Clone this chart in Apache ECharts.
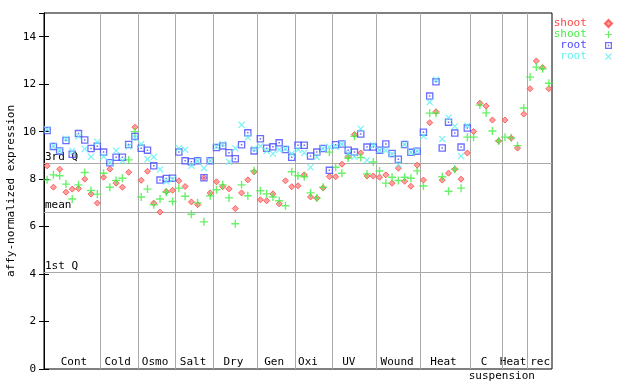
<!DOCTYPE html>
<html>
<head>
<meta charset="utf-8">
<script src="https://cdn.jsdelivr.net/npm/echarts@6/dist/echarts.min.js"></script>
<style>html,body{margin:0;padding:0;background:#fff}#c{width:640px;height:384px}</style>
</head>
<body>
<div id="c"></div>
<script>
// group names and boundaries (sample index)
var groupNames = ['Cont','Cold','Osmo','Salt','Dry','Gen','Oxi','UV','Wound','Heat','C','Heat','rec'];
var groupLabelPos = [4.78, 11.75, 17.7, 23.76, 30.2, 36.7, 42.1, 48.6, 56.3, 63.7, 70.15, 74.8, 79.1];
var subLabel = ['suspension'];
var subLabelPos = [73.0];
var groupBounds = [9, 15, 21, 27, 34, 40, 46, 53, 60, 68, 73, 77];
var sampleCount = 81;

var refLines = [8.67, 6.61, 4.08];
var refNames = ['3rd Q', 'mean', '1st Q'];

var shootA = [8.56,7.66,8.42,7.45,7.58,7.60,8.00,7.37,6.99,
  8.08,8.42,7.83,7.66,8.29,10.19,
  7.95,8.33,6.99,6.61,7.48,7.53,
  7.93,7.69,7.04,6.92,8.06,7.42,
  7.89,7.68,7.59,6.76,7.42,7.97,8.31,
  7.13,7.09,7.38,6.96,7.93,7.68,
  7.72,8.18,7.25,7.20,7.63,8.11,
  8.10,8.63,8.95,9.88,9.10,8.13,8.13,
  8.08,8.18,7.83,8.46,7.91,7.70,8.59,
  7.96,10.38,10.84,7.96,8.25,8.42,8.00,9.10,
  10.01,11.20,11.08,10.49,9.61,
  10.49,9.73,9.31,10.74,
  11.81,12.98,12.70,11.81];
var shootB = [7.97,8.18,8.14,7.79,7.16,7.76,8.28,7.52,7.37,
  8.25,7.66,7.94,8.04,8.81,10.00,
  7.25,7.58,6.92,7.16,7.45,7.06,
  7.62,7.28,6.52,7.00,6.20,7.30,
  7.55,7.76,7.21,6.12,7.76,7.30,8.35,
  7.51,7.38,7.25,7.09,6.88,8.31,
  8.14,8.10,7.42,7.20,7.66,9.14,
  8.50,8.25,8.89,9.81,8.91,8.22,8.72,
  8.34,7.83,8.08,7.94,8.08,8.04,8.35,
  7.71,10.78,10.78,8.10,7.49,8.42,7.62,9.77,
  9.77,11.12,10.79,10.03,9.61,
  9.77,9.74,9.41,11.00,
  12.30,12.72,12.65,12.04];
var rootA = [10.05,9.38,9.19,9.63,9.05,9.92,9.65,9.29,9.39,
  9.14,8.69,8.92,8.92,9.46,9.80,
  9.30,9.22,8.56,7.96,8.03,8.04,
  9.14,8.77,8.73,8.77,8.06,8.77,
  9.33,9.40,9.11,8.86,9.45,9.95,9.19,
  9.70,9.30,9.36,9.53,9.25,8.92,
  9.43,9.43,8.97,9.14,9.29,8.37,
  9.45,9.48,9.22,9.14,9.90,9.35,9.35,
  9.22,9.48,9.08,8.84,9.46,9.13,9.18,
  9.98,11.50,12.10,9.31,10.40,9.94,9.35,10.15];
var rootB = [10.10,9.40,9.20,9.70,9.19,9.80,9.28,8.94,9.56,
  8.95,8.70,9.20,8.77,9.38,9.75,
  9.48,8.84,8.93,8.41,7.90,8.00,
  9.30,9.24,8.56,8.77,8.46,8.77,
  9.37,9.48,8.73,9.30,10.29,9.76,9.28,
  9.39,9.19,9.07,9.24,9.28,9.07,
  9.24,9.11,8.50,8.93,9.29,9.36,
  9.36,9.48,9.10,8.94,10.12,8.80,9.43,
  9.22,9.21,9.05,8.62,9.46,9.13,9.18,
  9.81,11.25,12.19,9.69,10.59,10.23,8.97,10.25];

function toPoints(arr){ return arr.map(function(v,i){ return [i+0.5, v]; }); }
function nearestLabel(pos, names){ return function(v){ var b=0; for(var i=1;i<pos.length;i++){ if(Math.abs(pos[i]-v)<Math.abs(pos[b]-v)) b=i; } return names[b]; }; }

var FONT = 'DejaVu Sans Mono';
var symDiamond = 'path://M4,0 L8,4 L4,8 L0,4 Z';
var symPlus = 'path://M3.3,0 H4.7 V3.3 H8 V4.7 H4.7 V8 H3.3 V4.7 H0 V3.3 H3.3 Z';
var symSquare = 'path://M0,0 H8 V8 H0 Z M1.4,1.4 V6.6 H6.6 V1.4 Z M3.2,3.2 H4.8 V4.8 H3.2 Z';
var symX = 'path://M0,1 L1,0 L4,3 L7,0 L8,1 L5,4 L8,7 L7,8 L4,5 L1,8 L0,7 L3,4 Z';

var cRed = '#ff4545', cGreen = '#44ee44', cBlue = '#4848ff', cCyan = '#5ef0f0';

var markData = groupBounds.map(function(b){ return {xAxis: b, label:{show:false}}; })
  .concat(refLines.map(function(v,i){ return {yAxis: v, label:{show:true, formatter: refNames[i]}}; }));

var chart = echarts.init(document.getElementById('c'), null, {renderer:'canvas'});
chart.setOption({
  animation: false,
  backgroundColor: '#fff',
  textStyle: {fontFamily: FONT},
  grid: {left: 44, right: 88, top: 13, bottom: 15, show: true, borderColor: '#000', borderWidth: 1,
    backgroundColor: 'transparent', containLabel: false, outerBoundsMode: 'none'},
  legend: {
    orient: 'vertical', right: 27, top: 18, padding: 0, itemGap: 0,
    itemWidth: 7, itemHeight: 7, align: 'right',
    textStyle: {fontFamily: FONT, fontSize: 11, lineHeight: 11},
    formatter: function(n){ return n.split('_')[0] + '  '; },
    data: [
      {name:'shoot_a', textStyle:{color: cRed}},
      {name:'shoot_b', textStyle:{color: cGreen}},
      {name:'root_a', textStyle:{color: cBlue}},
      {name:'root_b', textStyle:{color: cCyan}}
    ]
  },
  xAxis: [{
    type: 'value', position: 'bottom', min: 0, max: sampleCount,
    axisLine: {show: false}, axisTick: {show: false}, splitLine: {show: false},
    axisLabel: {inside: true, margin: 1, customValues: groupLabelPos, formatter: nearestLabel(groupLabelPos, groupNames),
      color: '#000', fontFamily: FONT, fontSize: 11}
  }, {
    type: 'value', position: 'bottom', min: 0, max: sampleCount,
    axisLine: {show: false}, axisTick: {show: false}, splitLine: {show: false},
    axisLabel: {inside: false, margin: 2, customValues: subLabelPos, formatter: nearestLabel(subLabelPos, subLabel),
      color: '#000', fontFamily: FONT, fontSize: 11}
  }],
  yAxis: [{
    type: 'value', position: 'left', min: 0, max: 15, interval: 2,
    name: 'affy-normalized expression', nameLocation: 'middle', nameGap: 27, nameMoveOverlap: false,
    nameTextStyle: {color: '#000', fontFamily: FONT, fontSize: 11},
    axisLine: {show: true, lineStyle: {color: '#000', width: 1}},
    axisTick: {show: true, inside: true, length: 5, lineStyle: {color: '#000'}},
    axisLabel: {margin: 8, showMaxLabel: false, color: '#000', fontFamily: FONT, fontSize: 11},
    splitLine: {show: false}
  }, {
    type: 'value', position: 'right', min: 0, max: 15, interval: 2,
    axisLine: {show: true, lineStyle: {color: '#000', width: 1}},
    axisTick: {show: true, inside: true, length: 5, lineStyle: {color: '#000'}},
    axisLabel: {show: false}, splitLine: {show: false}
  }],
  series: [
    {name: 'lines', type: 'scatter', data: [], silent: true, z: 1,
     markLine: {silent: true, symbol: 'none', z: 1, animation: false,
       lineStyle: {color: '#aaaaaa', width: 1, type: 'solid'},
       label: {position: 'insideStartTop', distance: [1, 1], color: '#000', fontFamily: FONT, fontSize: 11, padding: 0},
       emphasis: {disabled: true},
       data: markData}},
    {name: 'shoot_a', type: 'scatter', data: toPoints(shootA), symbol: symDiamond, symbolSize: 6,
     itemStyle: {color: '#ff8a8a', borderColor: cRed, borderWidth: 1}},
    {name: 'shoot_b', type: 'scatter', data: toPoints(shootB), symbol: symPlus, symbolSize: 8,
     itemStyle: {color: cGreen}},
    {name: 'root_a', type: 'scatter', data: toPoints(rootA), symbol: symSquare, symbolSize: 7.5,
     itemStyle: {color: cBlue}},
    {name: 'root_b', type: 'scatter', data: toPoints(rootB), symbol: symX, symbolSize: 7,
     itemStyle: {color: cCyan}}
  ]
});
</script>
</body>
</html>
